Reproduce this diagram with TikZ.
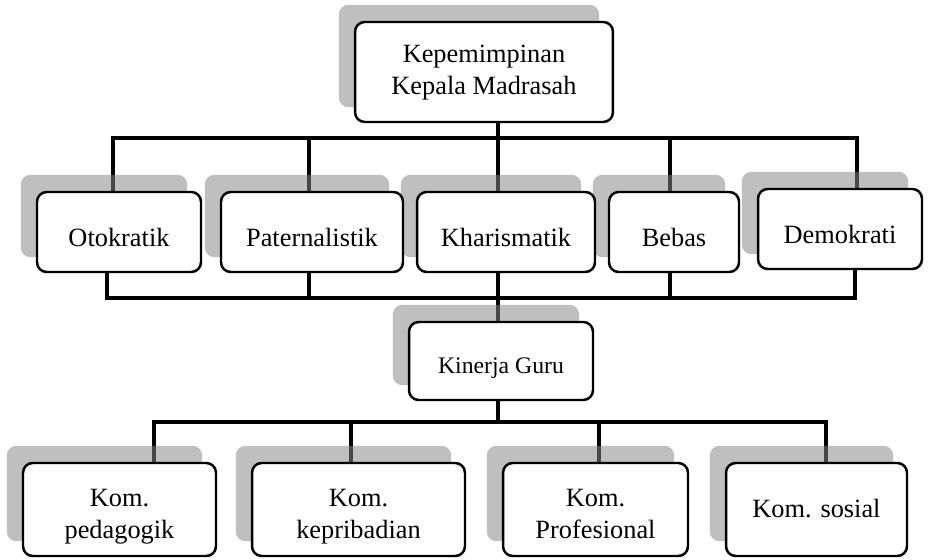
\documentclass[tikz,border=0pt]{standalone}
\usepackage{fontspec}
\setmainfont{Liberation Serif}
\usetikzlibrary{positioning,backgrounds}

\newcommand{\isi}[2][0pt]{\raisebox{-#1}[\height][\depth]{\begin{tabular}{@{}c@{}}#2\end{tabular}}}

\tikzset{
  kotak/.style={draw, line width=1.4pt, rounded corners=5.5pt, fill=white, inner sep=0pt, font=\fontsize{15}{18.5}\selectfont},
  bayang/.style={fill=black!47, fill opacity=0.53, rounded corners=5.5pt},
  garis/.style={line width=1.8pt},
}

\begin{document}
\begin{tikzpicture}[x=0.02cm, y=-0.02cm]
\useasboundingbox (0,0) rectangle (934,560);

% Level 1
\node[kotak, minimum width=5.16cm, minimum height=2cm] (kepala) at (484,72) {\isi{Kepemimpinan\\Kepala Madrasah}};

% Level 2: gaya kepemimpinan
\node[kotak, minimum width=3.28cm, minimum height=1.6cm] (oto) at (119,232) {\isi[4.8pt]{Otokratik}};
\node[kotak, minimum width=3.64cm, minimum height=1.6cm] (pater) at (312,232) {\isi[4.8pt]{Paternalistik}};
\node[kotak, minimum width=3.56cm, minimum height=1.6cm] (khar) at (506,232) {\isi[4.8pt]{Kharismatik}};
\node[kotak, minimum width=2.6cm, minimum height=1.6cm] (bebas) at (674,232) {\isi[4.8pt]{Bebas}};
\node[kotak, minimum width=3.28cm, minimum height=1.6cm] (demo) at (840,229) {\isi[4.8pt]{Demokrati}};

% Level 3
\node[kotak, minimum width=3.68cm, minimum height=1.56cm, font=\fontsize{13.5}{16}\selectfont] (kinerja) at (501,361) {\isi[4.2pt]{Kinerja Guru}};

% Level 4: kompetensi
\node[kotak, minimum width=3.86cm, minimum height=1.86cm] (peda) at (119.5,509.5) {\isi[3.6pt]{Kom.\\pedagogik}};
\node[kotak, minimum width=4.26cm, minimum height=1.86cm] (kepri) at (358.5,509.5) {\isi[3.6pt]{Kom.\\kepribadian}};
\node[kotak, minimum width=3.7cm, minimum height=1.86cm] (prof) at (595.5,509.5) {\isi[3.6pt]{Kom.\\Profesional}};
\node[kotak, minimum width=3.62cm, minimum height=1.86cm] (sosial) at (816.5,509.5) {\isi[1.1pt]{Kom. sosial}};

% titik cabang
\coordinate (a1) at (113,138); \coordinate (a2) at (309,138); \coordinate (a3) at (498,138);
\coordinate (a4) at (670,138); \coordinate (a5) at (857,138);
\coordinate (b1) at (107,298); \coordinate (b2) at (309,298); \coordinate (b3) at (498,298);
\coordinate (b4) at (670,298); \coordinate (b5) at (855,298);
\coordinate (c1) at (154,422); \coordinate (c2) at (351,422); \coordinate (c3) at (498,422);
\coordinate (c4) at (599,422); \coordinate (c5) at (826,422);

\begin{scope}[on background layer]
% garis penghubung
\draw[garis] (kepala.south -| a3) -- (a3);
\draw[garis] (oto.north -| a1) -- (a1) -- (a5) -- (demo.north -| a5);
\foreach \n/\k in {2/pater,3/khar,4/bebas}
  \draw[garis] (a\n) -- (\k.north -| a\n);
\draw[garis] (oto.south -| b1) -- (b1) -- (b5) -- (demo.south -| b5);
\foreach \n/\k in {2/pater,4/bebas}
  \draw[garis] (\k.south -| b\n) -- (b\n);
\draw[garis] (khar.south -| b3) -- (kinerja.north -| b3);
\draw[garis] (kinerja.south -| c3) -- (c3);
\draw[garis] (peda.north -| c1) -- (c1) -- (c5) -- (sosial.north -| c5);
\foreach \n/\k in {2/kepri,4/prof}
  \draw[garis] (c\n) -- (\k.north -| c\n);

% bayangan
\foreach \k in {kepala,oto,pater,khar,bebas,demo,kinerja,peda,kepri,prof,sosial}
  \fill[bayang] ([shift={(-15,-16)}]\k.south west) rectangle ([shift={(-15,-16)}]\k.north east);
\end{scope}

\end{tikzpicture}
\end{document}
